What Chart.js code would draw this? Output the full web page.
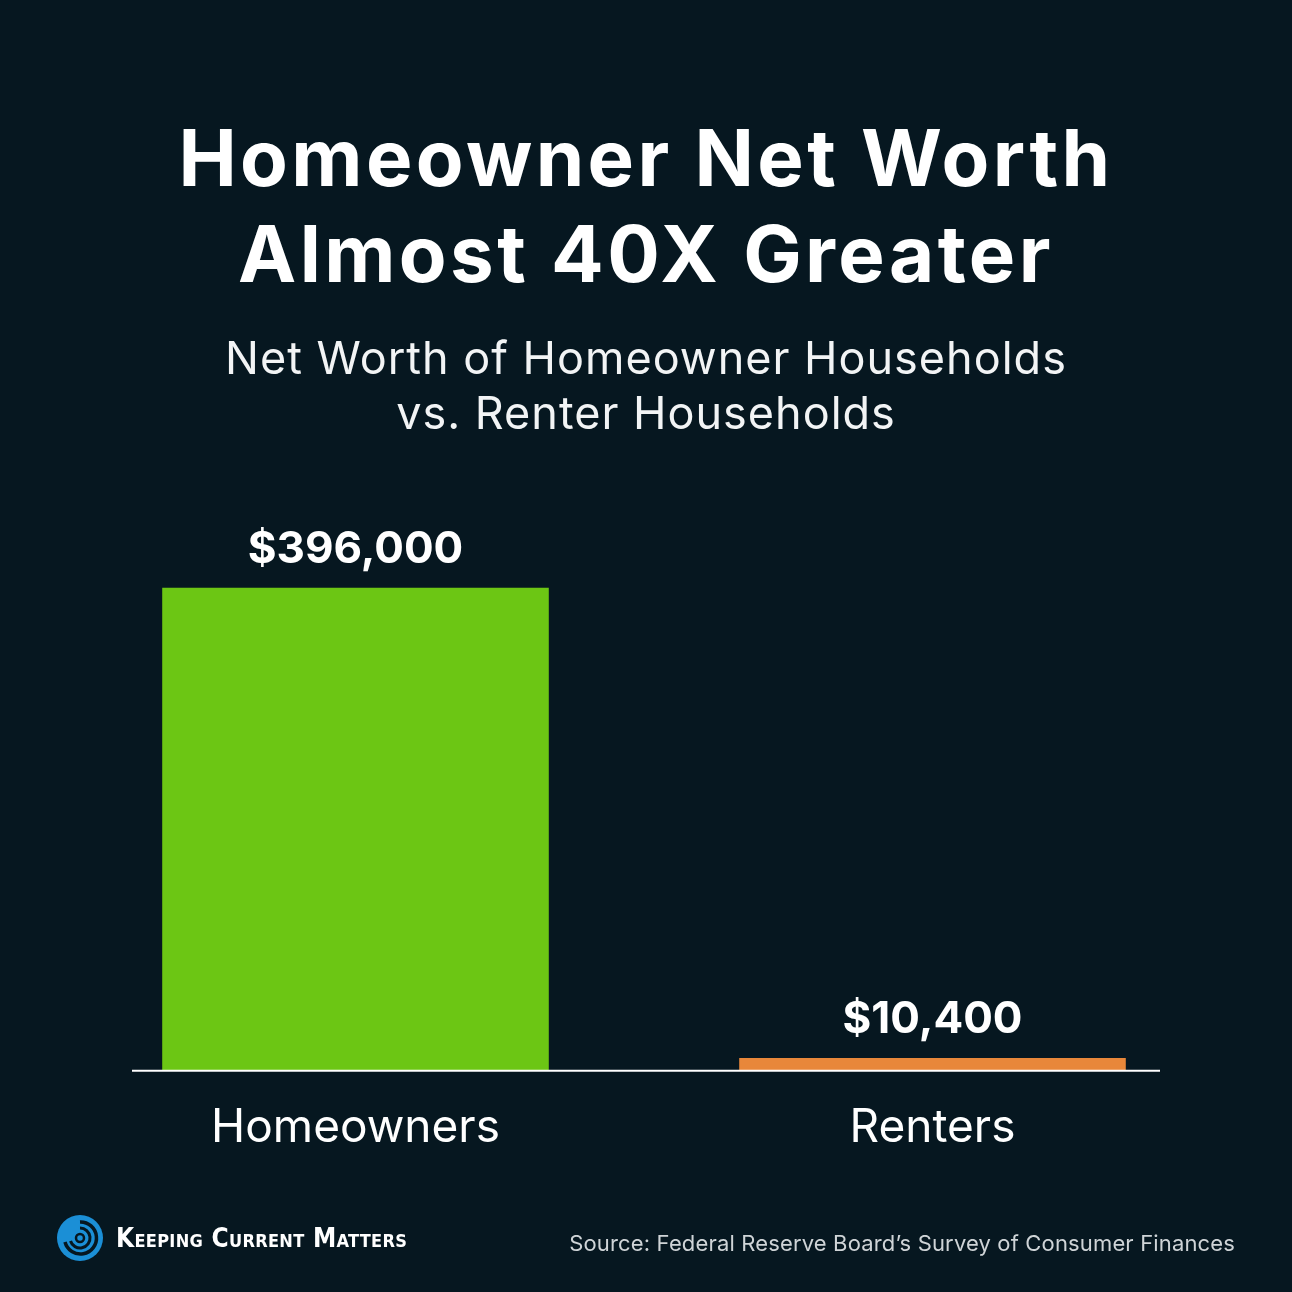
<!DOCTYPE html>
<html>
<head>
<meta charset="utf-8">
<script src="https://cdn.jsdelivr.net/npm/chart.js@4.4.1/dist/chart.umd.min.js"></script>
<style>
  body { margin: 0; background: #061720; width: 1292px; height: 1292px; overflow: hidden; position: relative; font-family: Inter, "Open Sans", sans-serif; }
  #wrap { position: absolute; left: 0; top: 0; width: 1292px; height: 1292px; }
  .title { position: absolute; left: 0; width: 1292px; top: 110px; text-align: center; color: #fff; font-weight: 700; font-size: 78px; line-height: 96px; letter-spacing: 3.4px; }
  .sub { position: absolute; left: 0; width: 1292px; top: 330px; text-align: center; color: #f2f4f5; font-weight: 400; font-size: 45px; line-height: 55px; letter-spacing: 1px; }
  .brand { position: absolute; left: 56px; top: 1214px; display: flex; align-items: center; color: #fff; }
  .brand span { margin-left: 12px; font-family: "Liberation Sans Narrow", "DejaVu Sans Condensed", sans-serif; font-weight: 700; font-size: 26px; font-variant: small-caps; letter-spacing: 0.3px; }
  .source { position: absolute; right: 57px; top: 1230px; color: #cfd4d7; font-size: 22px; letter-spacing: 0.15px; }
</style>
</head>
<body>
<div id="wrap"><canvas id="netWorthChart" width="1292" height="1292"></canvas></div>
<div class="title">Homeowner Net Worth<br>Almost 40X Greater</div>
<div class="sub">Net Worth of Homeowner Households<br>vs. Renter Households</div>
<div class="brand">
  <svg width="48" height="48" viewBox="0 0 48 48">
    <circle cx="24" cy="24" r="23" fill="#1b8fd6"/>
    <path d="M24 8 A16 16 0 1 1 9 28" fill="none" stroke="#061720" stroke-width="3.5"/>
    <path d="M24 14 A10 10 0 1 1 14.5 27" fill="none" stroke="#061720" stroke-width="3"/>
    <circle cx="24" cy="24" r="4" fill="none" stroke="#061720" stroke-width="2.5"/>
  </svg>
  <span>Keeping Current Matters</span>
</div>
<div class="source">Source: Federal Reserve Board’s Survey of Consumer Finances</div>

<script>
// --- Data ---
const categories = ["Homeowners", "Renters"];
const netWorth = [396000, 10400];
const valueLabels = ["$396,000", "$10,400"];
const barColors = ["#6cc614", "#e8873a"];

// value labels above each bar
const valueLabelPlugin = {
    id: "valueLabels",
    afterDatasetsDraw(chart) {
        const ctx = chart.ctx;
        const meta = chart.getDatasetMeta(0);
        ctx.save();
        ctx.fillStyle = "#ffffff";
        ctx.font = "700 44px Inter, 'Open Sans', sans-serif";
        ctx.textAlign = "center";
        ctx.textBaseline = "alphabetic";
        meta.data.forEach((bar, i) => {
            ctx.fillText(valueLabels[i], bar.x, bar.y - 25);
        });
        ctx.restore();
    }
};

// baseline under the bars, a bit narrower than the chart area
const baselinePlugin = {
    id: "baseline",
    afterDatasetsDraw(chart) {
        const y = chart.scales.y.getPixelForValue(0);
        const ctx = chart.ctx;
        ctx.save();
        ctx.strokeStyle = "#ffffff";
        ctx.lineWidth = 2;
        ctx.beginPath();
        ctx.moveTo(132, y);
        ctx.lineTo(1160, y);
        ctx.stroke();
        ctx.restore();
    }
};

const ctx = document.getElementById("netWorthChart");

new Chart(ctx, {
    type: "bar",
    data: {
        labels: categories,
        datasets: [{
            data: netWorth,
            backgroundColor: barColors,
            borderWidth: 0,
            barPercentage: 0.67,
            categoryPercentage: 1.0,
        }]
    },
    options: {
        responsive: false,
        animation: false,
        layout: {
            padding: { left: 67, right: 71, top: 461, bottom: 106 }
        },
        plugins: {
            legend: { display: false },
            tooltip: { enabled: false },
        },
        scales: {
            y: {
                display: false,
                min: 0,
                max: 500000,
            },
            x: {
                grid: { display: false, drawTicks: false },
                border: { display: false },
                ticks: {
                    color: "#ffffff",
                    padding: 30,
                    font: { family: "Inter, 'Open Sans', sans-serif", size: 46, weight: "400" }
                }
            }
        }
    },
    plugins: [valueLabelPlugin, baselinePlugin]
});
</script>
</body>
</html>
